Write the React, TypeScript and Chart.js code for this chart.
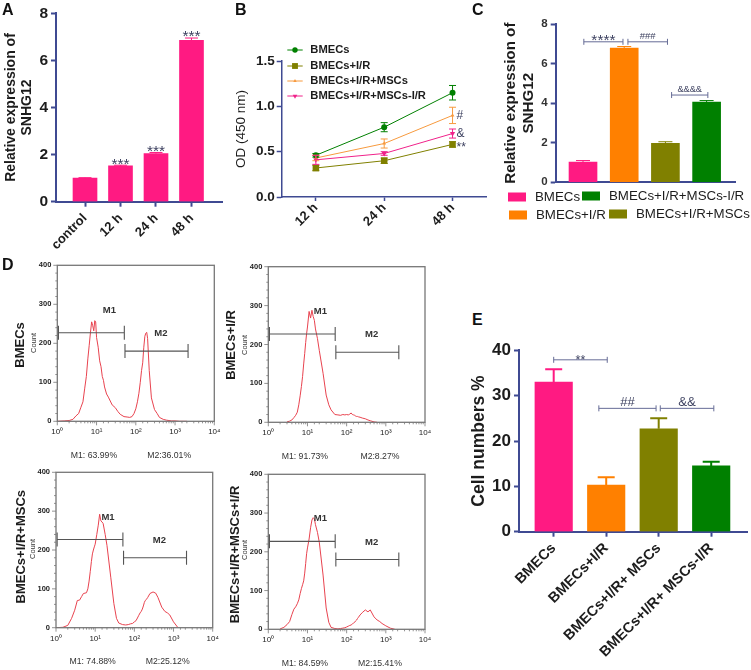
import { useEffect, useRef } from "react";
import Chart from "chart.js/auto";
import { drawPoint } from "chart.js/helpers";

const FONT = '"Liberation Sans", Arial, sans-serif';
const NAVY = "#3f4a92";
const INK = "#1c1c1c";
const PINK = "#ff1a82";
const ORANGE = "#ff8000";
const OLIVE = "#808000";
const GREEN = "#008000";

// Panel A
const aCategories = ["control", "12 h", "24 h", "48 h"];
const aValues = [1.0, 1.52, 2.04, 6.85];
const aErrors = [0.02, 0.03, 0.05, 0.1];
const aStarLevels = [1.73, 2.29, 7.19];

// Panel B
const bCategories = ["12 h", "24 h", "48 h"];
const bLabels = ["BMECs", "BMECs+I/R", "BMECs+I/R+MSCs", "BMECs+I/R+MSCs-I/R"];
const bBmecs = [0.46, 0.77, 1.15];
const bBmecsErr = [0.02, 0.05, 0.08];
const bIr = [0.32, 0.4, 0.58];
const bIrErr = [0.03, 0.03, 0.03];
const bMsc = [0.43, 0.59, 0.9];
const bMscErr = [0.03, 0.05, 0.09];
const bMscIr = [0.41, 0.48, 0.7];
const bMscIrErr = [0.05, 0.02, 0.05];

// Panel C
const cValues = [1.02, 6.78, 1.97, 4.05];
const cErrors = [0.08, 0.08, 0.08, 0.08];
const cLegend = ["BMECs", "BMECs+I/R", "BMECs+I/R+MSCs", "BMECs+I/R+MSCs-I/R"];

// Panel D (flow cytometry histograms)
const channels = [1, 1.5, 2, 2.5, 3, 3.5, 4, 4.5, 5, 5.5, 6, 6.5, 7, 7.5, 8, 8.5, 9, 9.5, 10, 11, 12, 13, 14, 15, 16, 18, 20, 25, 30, 35, 40, 50, 60, 70, 80, 90, 100, 110, 120, 130, 140, 150, 160, 170, 180, 190, 200, 220, 250, 300, 350, 400, 500, 600, 700, 800, 1000, 1300, 1700, 2000];
const d1Counts = [0, 1, 2, 5, 14, 20, 36, 50, 85, 115, 160, 195, 228, 255, 245, 232, 258, 255, 215, 190, 155, 140, 115, 105, 88, 70, 62, 42, 35, 25, 18, 12, 11, 10, 12, 20, 32, 50, 72, 100, 130, 150, 190, 218, 226, 228, 212, 130, 60, 30, 20, 10, 5, 3, 2, 1, 1, 0, 0, 0];
const d2Counts = [null, null, null, null, 1, 3, 6, 12, 18, 26, 45, 68, 92, 118, 150, 177, 205, 228, 245, 285, 268, 288, 272, 262, 240, 215, 185, 126, 70, 45, 32, 20, 19, 18, 20, 19, 20, 19, 21, 24, 20, 19, 18, 16, 15, 15, 14, 13, 11, 9, 6, 4, 1, 0, null, null, null, null, null, null];
const d3Counts = [0, 1, 6, 24, 45, 70, 71, 80, 88, 89, 90, 100, 120, 145, 170, 190, 200, 208, 215, 240, 264, 292, 275, 272, 268, 240, 212, 130, 62, 24, 12, 8, 7, 8, 10, 11, 15, 18, 25, 32, 38, 42, 48, 56, 65, 70, 72, 78, 88, 92, 89, 78, 53, 42, 38, 33, 15, 0, null, null];
const d4Counts = [null, null, 1, 5, 12, 20, 38, 52, 58, 66, 76, 92, 105, 115, 125, 145, 170, 195, 210, 233, 262, 282, 288, 285, 270, 250, 225, 140, 55, 18, 5, 2, 1, 2, 3, 4, 6, 8, 10, 11, 14, 16, 18, 22, 24, 28, 31, 37, 43, 50, 45, 50, 32, 24, 20, 15, 9, 3, 0, null];
const gateM1 = [1.07, 51];
const gateM2 = [53, 2146];
const gateLevels = [227, 180];
const gateLabelAt = [[21.3, 285], [435, 225]];
const percentAt = [8.6, 708];
const d1Percents = ["M1: 63.99%", "M2:36.01%"];
const d2Percents = ["M1: 91.73%", "M2:8.27%"];
const d3Percents = ["M1: 74.88%", "M2:25.12%"];
const d4Percents = ["M1: 84.59%", "M2:15.41%"];

// Panel E
const eCategories = ["BMECs", "BMECs+I/R", "BMECs+I/R+ MSCs", "BMECs+I/R+ MSCs-I/R"];
const eValues = [33, 10.3, 22.7, 14.5];
const eErrors = [2.8, 1.7, 2.3, 0.9];

const barColors = [PINK, ORANGE, OLIVE, GREEN];

type Txt = { text: string; x: number; y: number; rot?: number; font: string; color?: string; align?: CanvasTextAlign; base?: CanvasTextBaseline };

function drawText(ctx: any, t: Txt, rect: any) {
  ctx.save();
  ctx.translate(t.x - rect.x, t.y - rect.y);
  if (t.rot) ctx.rotate(t.rot);
  ctx.font = t.font;
  ctx.fillStyle = t.color || INK;
  ctx.textAlign = t.align || "center";
  ctx.textBaseline = t.base || "middle";
  ctx.fillText(t.text, 0, 0);
  ctx.restore();
}

function layoutFor(rect: any, plot: any) {
  return { padding: { left: 0, top: plot.top - rect.y, right: rect.x + rect.w - plot.right, bottom: 0 } };
}
const fitY = (rect: any, plot: any) => (s: any) => {
  s.width = plot.left - rect.x;
  s.paddingTop = 0;
  s.paddingBottom = 0;
};
const fitX = (rect: any, plot: any) => (s: any) => {
  s.height = rect.y + rect.h - plot.bottom;
  s.paddingLeft = 0;
  s.paddingRight = 0;
};

function drawBracket(ctx: any, chart: any, rect: any, b: any) {
  const sx = chart.scales.x;
  const sy = chart.scales.y;
  const x1 = sx.getPixelForValue(b.x1);
  const x2 = sx.getPixelForValue(b.x2);
  const y = sy.getPixelForValue(b.y);
  ctx.save();
  ctx.strokeStyle = "#666c96";
  ctx.lineWidth = b.w || 1;
  ctx.beginPath();
  ctx.moveTo(x1, y);
  ctx.lineTo(x2, y);
  for (const x of [x1, x2]) {
    ctx.moveTo(x, y - 3);
    ctx.lineTo(x, y + 3);
  }
  ctx.stroke();
  ctx.font = b.font;
  ctx.fillStyle = "#3d4160";
  ctx.textAlign = "center";
  ctx.textBaseline = "alphabetic";
  ctx.fillText(b.label, (x1 + x2) / 2, y + b.dy);
  ctx.restore();
}

function barConfig(o: any) {
  const { rect, plot } = o;
  const idx = o.values.map((_: number, i: number) => i);
  return {
    type: "bar",
    data: {
      datasets: [{
        data: o.values.map((v: number, i: number) => ({ x: i, y: v })),
        backgroundColor: o.colors,
        borderWidth: 0,
        barThickness: o.barWidth,
      }],
    },
    options: {
      animation: false,
      responsive: false,
      layout: layoutFor(rect, plot),
      plugins: { legend: { display: false }, tooltip: { enabled: false } },
      scales: {
        x: {
          type: "linear",
          offset: false,
          min: o.xMin,
          max: o.xMax,
          afterBuildTicks: (s: any) => { s.ticks = idx.map((v: number) => ({ value: v })); },
          afterFit: fitX(rect, plot),
          grid: { offset: false, drawOnChartArea: false, drawTicks: !!o.labels, tickLength: 5, tickWidth: 2, tickColor: NAVY },
          border: { color: NAVY, width: 2 },
          ticks: o.labels
            ? { autoSkip: false, minRotation: 45, maxRotation: 45, padding: o.xPad ?? 2, color: INK, font: { family: FONT, weight: "bold", size: o.xFont }, callback: (v: number) => o.labels[v] }
            : { display: false },
        },
        y: {
          min: 0,
          max: o.yMax,
          afterFit: fitY(rect, plot),
          grid: { drawOnChartArea: false, tickLength: 5, tickWidth: 2, tickColor: NAVY },
          border: { color: NAVY, width: 2 },
          ticks: { stepSize: o.yStep, padding: 3, color: o.yColor || INK, font: { family: FONT, weight: "bold", size: o.yFont } },
          title: { display: true, text: o.title, color: INK, padding: { top: o.titlePad, bottom: 0 }, font: { family: FONT, weight: "bold", size: o.titleFont, lineHeight: o.titleLine } },
        },
      },
    },
    plugins: [{
      id: "marks",
      afterDatasetsDraw(chart: any) {
        const ctx = chart.ctx;
        const sx = chart.scales.x;
        const sy = chart.scales.y;
        o.values.forEach((v: number, i: number) => {
          const x = sx.getPixelForValue(i);
          const y0 = sy.getPixelForValue(v);
          const y1 = sy.getPixelForValue(v + o.errors[i]);
          ctx.save();
          ctx.strokeStyle = o.colors[i];
          ctx.lineWidth = o.errWidth;
          ctx.beginPath();
          ctx.moveTo(x, y0);
          ctx.lineTo(x, y1);
          ctx.moveTo(x - o.capWidth / 2, y1);
          ctx.lineTo(x + o.capWidth / 2, y1);
          ctx.stroke();
          ctx.restore();
        });
        (o.brackets || []).forEach((b: any) => drawBracket(ctx, chart, rect, b));
        (o.draw || (() => {}))(chart, ctx);
        (o.texts || []).forEach((t: Txt) => drawText(ctx, t, rect));
      },
    }],
  };
}

const specA = barConfig({
  rect: { x: 0, y: 0, w: 232, h: 258 },
  plot: { left: 56, top: 13.3, right: 222.7, bottom: 201.7 },
  xMin: -0.817, xMax: 3.879,
  values: aValues, errors: aErrors, colors: [PINK, PINK, PINK, PINK],
  labels: aCategories, xFont: 13, xPad: 4, yFont: 15.5, yMax: 8, yStep: 2,
  barWidth: 24, capWidth: 13, errWidth: 1,
  title: ["Relative expression of", "SNHG12"], titleFont: 14, titleLine: 16 / 14, titlePad: 3,
  draw(chart: any, ctx: any) {
    aStarLevels.forEach((lv, i) => {
      ctx.save();
      ctx.font = `15.5px ${FONT}`;
      ctx.fillStyle = "#3d4160";
      ctx.textAlign = "center";
      ctx.textBaseline = "alphabetic";
      ctx.fillText("***", chart.scales.x.getPixelForValue(i + 1), chart.scales.y.getPixelForValue(lv) + 8.5);
      ctx.restore();
    });
  },
});

const lineStyles = [
  { color: GREEN, pointStyle: "circle", radius: 3, rotation: 0 },
  { color: OLIVE, pointStyle: "rect", radius: 4.6, rotation: 0 },
  { color: "#f79a3e", pointStyle: "triangle", radius: 2.2, rotation: 0 },
  { color: "#f0228a", pointStyle: "triangle", radius: 3, rotation: 180 },
];
const bSeries = [bBmecs, bIr, bMsc, bMscIr];
const bErrors = [bBmecsErr, bIrErr, bMscErr, bMscIrErr];

const bRect = { x: 232, y: 0, w: 262, h: 258 };
const bPlot = { left: 281.7, top: 61, right: 486.7, bottom: 197 };
const specB = {
  type: "line",
  data: {
    labels: bCategories,
    datasets: bSeries.map((vals, i) => ({
      label: bLabels[i],
      data: vals,
      borderColor: lineStyles[i].color,
      backgroundColor: lineStyles[i].color,
      borderWidth: 1,
      tension: 0,
      pointStyle: lineStyles[i].pointStyle,
      pointRadius: lineStyles[i].radius,
      pointRotation: lineStyles[i].rotation,
      pointBorderWidth: 0,
    })),
  },
  options: {
    animation: false,
    responsive: false,
    layout: layoutFor(bRect, bPlot),
    plugins: { legend: { display: false }, tooltip: { enabled: false } },
    scales: {
      x: {
        offset: true,
        afterFit: fitX(bRect, bPlot),
        grid: { drawOnChartArea: false, offset: false, tickLength: 4, tickWidth: 1.5, tickColor: NAVY },
        border: { color: NAVY, width: 1.5 },
        ticks: { autoSkip: false, minRotation: 45, maxRotation: 45, padding: -1, color: INK, font: { family: FONT, weight: "bold", size: 13 } },
      },
      y: {
        min: 0, max: 1.5,
        afterFit: fitY(bRect, bPlot),
        grid: { drawOnChartArea: false, tickLength: 5, tickWidth: 1.5, tickColor: NAVY },
        border: { color: NAVY, width: 1.5 },
        ticks: { stepSize: 0.5, padding: 2, color: INK, font: { family: FONT, weight: "bold", size: 13.5 }, callback: (v: number) => v.toFixed(1) },
        title: { display: true, text: "OD (450 nm)", color: INK, padding: { top: 2, bottom: 0 }, font: { family: FONT, size: 13.5, lineHeight: 1.1 } },
      },
    },
  },
  plugins: [{
    id: "marksB",
    afterDatasetsDraw(chart: any) {
      const ctx = chart.ctx;
      const sx = chart.scales.x;
      const sy = chart.scales.y;
      bSeries.forEach((vals, s) => {
        vals.forEach((v, i) => {
          const x = sx.getPixelForValue(i);
          const e = bErrors[s][i];
          const y1 = sy.getPixelForValue(v + e);
          const y2 = sy.getPixelForValue(v - e);
          ctx.save();
          ctx.strokeStyle = lineStyles[s].color;
          ctx.lineWidth = 1;
          ctx.beginPath();
          ctx.moveTo(x, y1); ctx.lineTo(x, y2);
          ctx.moveTo(x - 3.5, y1); ctx.lineTo(x + 3.5, y1);
          ctx.moveTo(x - 3.5, y2); ctx.lineTo(x + 3.5, y2);
          ctx.stroke();
          ctx.restore();
        });
      });
      const rows = [50, 66, 81, 96];
      bLabels.forEach((lab, s) => {
        const st = lineStyles[s];
        const y = rows[s] - bRect.y;
        ctx.save();
        ctx.strokeStyle = st.color;
        ctx.fillStyle = st.color;
        ctx.lineWidth = 1;
        ctx.beginPath();
        ctx.moveTo(287.3 - bRect.x, y); ctx.lineTo(302.7 - bRect.x, y);
        ctx.stroke();
        drawPoint(ctx, { pointStyle: st.pointStyle, radius: st.radius * 0.9, rotation: st.rotation, borderWidth: 0 } as any, 295 - bRect.x, y);
        ctx.restore();
        drawText(ctx, { text: lab, x: 310.3, y, font: `bold 11.2px ${FONT}`, align: "left" }, bRect);
      });
      [["#", 0.9], ["&", 0.7], ["**", 0.57]].forEach(([t, yv]: any) => {
        ctx.save();
        ctx.font = `12px ${FONT}`;
        ctx.fillStyle = "#3d4160";
        ctx.textAlign = "left";
        ctx.textBaseline = "middle";
        ctx.fillText(t, sx.getPixelForValue(2) + 4, sy.getPixelForValue(yv) + (t === "**" ? 2 : 0));
        ctx.restore();
      });
    },
  }],
};

const specC = barConfig({
  rect: { x: 490, y: 0, w: 261, h: 240 },
  plot: { left: 555.7, top: 24, right: 735, bottom: 182.3 },
  xMin: -0.663, xMax: 3.689,
  values: cValues, errors: cErrors, colors: barColors,
  labels: null, yFont: 11.5, yMax: 8, yStep: 2, yColor: "#333",
  barWidth: 28, capWidth: 14, errWidth: 1,
  title: ["Relative expression of", "SNHG12"], titleFont: 15.2, titleLine: 18 / 15.2, titlePad: 12,
  brackets: [
    { x1: 0.02, x2: 0.97, y: 7.1, label: "****", font: `15.5px ${FONT}`, dy: 3 },
    { x1: 1.09, x2: 2.05, y: 7.1, label: "###", font: `9.5px ${FONT}`, dy: -3 },
    { x1: 2.15, x2: 3.03, y: 4.41, label: "&&&&", font: `9.2px ${FONT}`, dy: -3 },
  ],
  draw(chart: any, ctx: any) {
    const items = [
      [cLegend[0], PINK, 508, 197, 535],
      [cLegend[3], GREEN, 582, 196, 609],
      [cLegend[1], ORANGE, 509, 215, 536],
      [cLegend[2], OLIVE, 609, 214, 636],
    ];
    items.forEach(([lab, col, sx, y, tx]: any) => {
      ctx.save();
      ctx.fillStyle = col;
      ctx.fillRect(sx - 490, y - 4.5, 18, 9);
      ctx.restore();
      drawText(ctx, { text: lab, x: tx, y, font: `13.3px ${FONT}`, align: "left" }, { x: 490, y: 0 });
    });
  },
});

const specE = barConfig({
  rect: { x: 455, y: 335, w: 296, h: 335 },
  plot: { left: 519, top: 350.3, right: 747, bottom: 531.7 },
  xMin: -0.661, xMax: 3.682,
  values: eValues, errors: eErrors, colors: barColors,
  labels: eCategories, xFont: 14.5, xPad: 3, yFont: 17, yMax: 40, yStep: 10,
  barWidth: 37.5, capWidth: 17, errWidth: 2,
  title: "Cell numbers %", titleFont: 17.5, titleLine: 1.1, titlePad: 15,
  brackets: [
    { x1: 0, x2: 1.02, y: 37.9, label: "**", font: `12.5px ${FONT}`, dy: 4 },
    { x1: 0.86, x2: 1.95, y: 27.2, label: "##", font: `13px ${FONT}`, dy: -2 },
    { x1: 2.03, x2: 3.05, y: 27.2, label: "&&", font: `13.3px ${FONT}`, dy: -2 },
  ],
});

function flowConfig(o: any) {
  const { rect, plot } = o;
  const box = "#777777";
  return {
    type: "line",
    data: {
      datasets: [{
        data: channels.map((c, i) => ({ x: c, y: o.counts[i] })),
        borderColor: "#e8434f",
        borderWidth: 1,
        pointRadius: 0,
        tension: 0,
      }],
    },
    options: {
      animation: false,
      responsive: false,
      layout: layoutFor(rect, plot),
      plugins: { legend: { display: false }, tooltip: { enabled: false } },
      scales: {
        x: {
          type: "logarithmic",
          min: 1, max: 10000,
          afterFit: fitX(rect, plot),
          grid: { display: false, drawTicks: false },
          border: { display: false },
          ticks: {
            autoSkip: false, maxRotation: 0, minRotation: 0, padding: 6, color: "#222",
            font: { family: FONT, size: 8 },
            callback: (v: number) => ({ 1: "10⁰", 10: "10¹", 100: "10²", 1000: "10³", 10000: "10⁴" } as any)[v] ?? "",
          },
        },
        y: {
          min: 0, max: 400,
          afterFit: fitY(rect, plot),
          grid: { display: false, drawTicks: false },
          border: { display: false },
          ticks: { stepSize: 100, padding: 6, color: "#222", font: { family: FONT, weight: "bold", size: 7.5 } },
        },
      },
    },
    plugins: [{
      id: "flow",
      afterDatasetsDraw(chart: any) {
        const ctx = chart.ctx;
        const a = chart.chartArea;
        const sx = chart.scales.x;
        const sy = chart.scales.y;
        ctx.save();
        ctx.strokeStyle = box;
        ctx.lineWidth = 1.3;
        ctx.strokeRect(a.left, a.top, a.right - a.left, a.bottom - a.top);
        ctx.lineWidth = 0.8;
        ctx.beginPath();
        sx.ticks.forEach((t: any) => {
          const lg = Math.log10(t.value);
          const major = Math.abs(lg - Math.round(lg)) < 1e-6;
          const x = sx.getPixelForValue(t.value);
          ctx.moveTo(x, a.bottom);
          ctx.lineTo(x, a.bottom + (major ? 4 : 2));
        });
        for (let v = 0; v <= 400; v += 20) {
          const y = sy.getPixelForValue(v);
          ctx.moveTo(a.left, y);
          ctx.lineTo(a.left - (v % 100 === 0 ? 4 : 2), y);
        }
        ctx.stroke();
        // gates
        ctx.strokeStyle = "#555";
        ctx.lineWidth = 1.1;
        [gateM1, gateM2].forEach((g, i) => {
          const x1 = sx.getPixelForValue(g[0]);
          const x2 = sx.getPixelForValue(g[1]);
          const y = sy.getPixelForValue(gateLevels[i]);
          ctx.beginPath();
          ctx.moveTo(x1, y); ctx.lineTo(x2, y);
          ctx.moveTo(x1, y - 7); ctx.lineTo(x1, y + 7);
          ctx.moveTo(x2, y - 7); ctx.lineTo(x2, y + 7);
          ctx.stroke();
        });
        ctx.restore();
        ["M1", "M2"].forEach((m, i) => {
          drawText(ctx, {
            text: m,
            x: sx.getPixelForValue(gateLabelAt[i][0]) + rect.x,
            y: sy.getPixelForValue(gateLabelAt[i][1]) + rect.y,
            font: `bold 9.5px ${FONT}`, color: "#333",
          }, rect);
        });
        o.percents.forEach((p: string, i: number) => {
          drawText(ctx, {
            text: p,
            x: sx.getPixelForValue(percentAt[i]) + rect.x,
            y: a.bottom + rect.y + 34.3,
            font: `8.7px ${FONT}`, color: "#333",
          }, rect);
        });
        drawText(ctx, { text: o.name, x: o.nameX, y: o.nameY, rot: -Math.PI / 2, font: `bold 13px ${FONT}` }, rect);
        drawText(ctx, { text: "Count", x: plot.left - 23, y: o.countY, rot: -Math.PI / 2, font: `7.5px ${FONT}`, color: "#333" }, rect);
      },
    }],
  };
}

const specD1 = flowConfig({
  rect: { x: 0, y: 258, w: 225, h: 208 }, plot: { left: 57.3, top: 265.3, right: 214.3, bottom: 421.3 },
  counts: d1Counts, percents: d1Percents, name: "BMECs", nameX: 20, nameY: 345, countY: 343,
});
const specD2 = flowConfig({
  rect: { x: 225, y: 258, w: 220, h: 208 }, plot: { left: 268.3, top: 266.7, right: 425, bottom: 422.3 },
  counts: d2Counts, percents: d2Percents, name: "BMECs+I/R", nameX: 231.7, nameY: 345, countY: 345,
});
const specD3 = flowConfig({
  rect: { x: 0, y: 466, w: 225, h: 204 }, plot: { left: 56, top: 472.3, right: 212.7, bottom: 627.7 },
  counts: d3Counts, percents: d3Percents, name: "BMECs+I/R+MSCs", nameX: 21, nameY: 546.7, countY: 549,
});
const specD4 = flowConfig({
  rect: { x: 225, y: 466, w: 220, h: 204 }, plot: { left: 268.3, top: 474.3, right: 425, bottom: 629.3 },
  counts: d4Counts, percents: d4Percents, name: "BMECs+I/R+MSCs+I/R", nameX: 235, nameY: 554.4, countY: 550,
});

const panels: any[] = [
  { spec: specA, rect: { x: 0, y: 0, w: 232, h: 258 } },
  { spec: specB, rect: bRect },
  { spec: specC, rect: { x: 490, y: 0, w: 261, h: 240 } },
  { spec: specD1, rect: { x: 0, y: 258, w: 225, h: 208 } },
  { spec: specD2, rect: { x: 225, y: 258, w: 220, h: 208 } },
  { spec: specD3, rect: { x: 0, y: 466, w: 225, h: 204 } },
  { spec: specD4, rect: { x: 225, y: 466, w: 220, h: 204 } },
  { spec: specE, rect: { x: 455, y: 335, w: 296, h: 335 } },
];

const letters = [
  { t: "A", x: 2, y: 1 },
  { t: "B", x: 235, y: 1 },
  { t: "C", x: 472, y: 1 },
  { t: "D", x: 2, y: 256 },
  { t: "E", x: 472, y: 311 },
];

export default function App() {
  const refs = useRef<(HTMLCanvasElement | null)[]>([]);
  useEffect(() => {
    const charts = panels.map((p, i) => new Chart(refs.current[i] as HTMLCanvasElement, p.spec));
    return () => charts.forEach((c) => c.destroy());
  }, []);
  return (
    <div style={{ position: "relative", width: 751, height: 670, overflow: "hidden", background: "#fff" }}>
      <style>{"html,body{margin:0;padding:0;background:#fff}"}</style>
      {panels.map((p, i) => (
        <canvas
          key={i}
          ref={(el) => { refs.current[i] = el; }}
          width={p.rect.w}
          height={p.rect.h}
          style={{ position: "absolute", left: p.rect.x, top: p.rect.y, width: p.rect.w, height: p.rect.h }}
        />
      ))}
      {letters.map((l) => (
        <div key={l.t} style={{ position: "absolute", left: l.x, top: l.y, font: `bold 16px ${FONT}`, color: "#111" }}>{l.t}</div>
      ))}
    </div>
  );
}
